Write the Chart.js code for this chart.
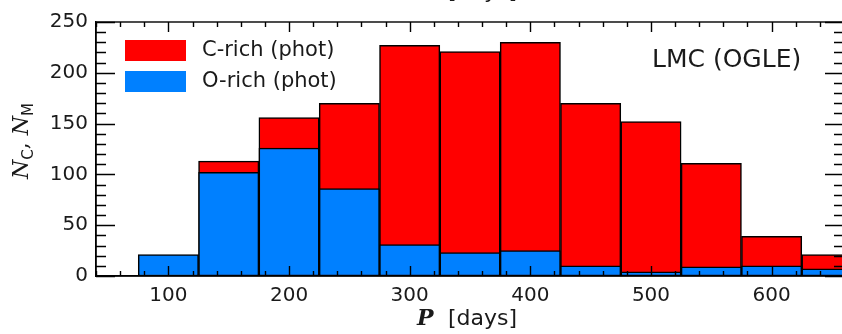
<!DOCTYPE html>
<html>
<head>
<meta charset="utf-8">
<script src="https://cdn.jsdelivr.net/npm/chart.js@4"></script>
<style>
  html, body { margin: 0; padding: 0; background: #fff; overflow: hidden; }
  #wrap { position: relative; width: 846px; height: 334px; }
</style>
</head>
<body>
<div id="wrap"><canvas id="hist"></canvas></div>
<script>
// bin centres (days), 50-day bins
const periodBins = [100, 150, 200, 250, 300, 350, 400, 450, 500, 550, 600, 650];
const cRichCounts = [null, 113, 156, 170, 227, 221, 230, 170, 152, 111, 39, 21];
const oRichCounts = [21, 102, 126, 86, 31, 23, 25, 10, 4, 9, 10, 7];
const xTickValues = [100, 200, 300, 400, 500, 600];
const yTickValues = [0, 50, 100, 150, 200, 250];
const seriesLabels = ['C-rich (phot)', 'O-rich (phot)'];
const panelLabel = 'LMC (OGLE)';

const INK = '#1a1a1a';

const toPoints = (vals) => periodBins.map((p, i) => ({ x: p, y: vals[i] }));

// inward ticks on all four sides + top/right frame
const frameTicks = {
    id: 'frameTicks',
    afterDraw(chart) {
        const { ctx, chartArea: a, scales: { x, y } } = chart;
        ctx.save();
        ctx.strokeStyle = '#000';
        ctx.lineWidth = 1.4;
        ctx.strokeRect(a.left, a.top, a.right - a.left, a.bottom - a.top);
        ctx.beginPath();
        for (let v = 40; v <= x.max; v += 20) {
            const px = Math.round(x.getPixelForValue(v)) + 0.5;
            const len = v % 100 === 0 ? 10 : 5;
            ctx.moveTo(px, a.bottom); ctx.lineTo(px, a.bottom - len);
            ctx.moveTo(px, a.top); ctx.lineTo(px, a.top + len);
        }
        for (let v = 0; v <= y.max; v += 10) {
            const py = Math.round(y.getPixelForValue(v)) + 0.5;
            const len = v % 50 === 0 ? 19 : 10;
            ctx.moveTo(a.left, py); ctx.lineTo(a.left + len, py);
            ctx.moveTo(a.right, py); ctx.lineTo(a.right - len, py);
        }
        ctx.stroke();
        ctx.restore();
    }
};

function drawXTitle(ctx, cx, base) {
    ctx.font = 'italic bold 22px "DejaVu Serif"';
    ctx.fillText('P', cx - 52, base);
    ctx.font = '22px "DejaVu Sans"';
    ctx.fillText('[days]', cx - 21, base);
}

const labelsPlugin = {
    id: 'labelsPlugin',
    afterDraw(chart) {
        const { ctx } = chart;
        ctx.save();
        ctx.fillStyle = INK;
        ctx.textBaseline = 'alphabetic';
        ctx.textAlign = 'left';

        // x title, plus the clipped one from the panel above
        drawXTitle(ctx, 469, 325);
        drawXTitle(ctx, 469, -2);

        // y title: N_C, N_M
        ctx.save();
        ctx.translate(28, 141);
        ctx.rotate(-Math.PI / 2);
        const runs = [
            { t: 'N', f: 'italic 22px "DejaVu Serif"', dy: 0 },
            { t: 'C', f: '15px "DejaVu Sans"', dy: 5 },
            { t: ', ', f: '22px "DejaVu Serif"', dy: 0 },
            { t: 'N', f: 'italic 22px "DejaVu Serif"', dy: 0 },
            { t: 'M', f: '15px "DejaVu Sans"', dy: 5 }
        ];
        let total = 0;
        runs.forEach(r => { ctx.font = r.f; r.w = ctx.measureText(r.t).width; total += r.w; });
        let xp = -total / 2;
        runs.forEach(r => { ctx.font = r.f; ctx.fillText(r.t, xp, r.dy); xp += r.w; });
        ctx.restore();

        // legend
        const ds = chart.data.datasets;
        const rows = [{ d: ds[0], y: 40 }, { d: ds[1], y: 71 }];
        ctx.textBaseline = 'middle';
        ctx.font = '21px "DejaVu Sans"';
        rows.forEach(r => {
            ctx.fillStyle = r.d.backgroundColor;
            ctx.fillRect(125, r.y, 61, 21);
            ctx.fillStyle = INK;
            ctx.fillText(r.d.label, 202, r.y + 11);
        });

        // panel label
        ctx.font = '25px "DejaVu Sans"';
        ctx.fillText(panelLabel, 652, 60);
        ctx.restore();
    }
};

new Chart(document.getElementById('hist'), {
    type: 'bar',
    data: {
        datasets: [
            {
                label: seriesLabels[0],
                data: toPoints(cRichCounts),
                backgroundColor: '#ff0000',
                borderColor: '#000',
                borderWidth: 1.5,
                borderSkipped: false,
                order: 1
            },
            {
                label: seriesLabels[1],
                data: toPoints(oRichCounts),
                backgroundColor: '#0080ff',
                borderColor: '#000',
                borderWidth: 1.5,
                borderSkipped: false,
                order: 0
            }
        ]
    },
    options: {
        responsive: true,
        maintainAspectRatio: false,
        animation: false,
        grouped: false,
        barPercentage: 1,
        categoryPercentage: 1,
        layout: { padding: { top: 22, right: 2, left: 0, bottom: 0 } },
        plugins: { legend: { display: false }, tooltip: { enabled: false } },
        scales: {
            x: {
                type: 'linear',
                offset: false,
                min: 40,
                max: 660,
                afterBuildTicks: (s) => { s.ticks = xTickValues.map(v => ({ value: v })); },
                afterFit: (s) => { s.height = 58; },
                grid: { display: false, drawTicks: false, offset: false },
                border: { display: true, color: '#000', width: 1.4 },
                ticks: { color: INK, font: { family: 'DejaVu Sans', size: 20 }, padding: 8, maxRotation: 0 }
            },
            y: {
                min: 0,
                max: 250,
                afterBuildTicks: (s) => { s.ticks = yTickValues.map(v => ({ value: v })); },
                afterFit: (s) => { s.width = 96; },
                grid: { display: false, drawTicks: false },
                border: { display: true, color: '#000', width: 1.4 },
                ticks: { color: INK, font: { family: 'DejaVu Sans', size: 20 }, padding: 8 }
            }
        }
    },
    plugins: [frameTicks, labelsPlugin]
});
</script>
</body>
</html>
